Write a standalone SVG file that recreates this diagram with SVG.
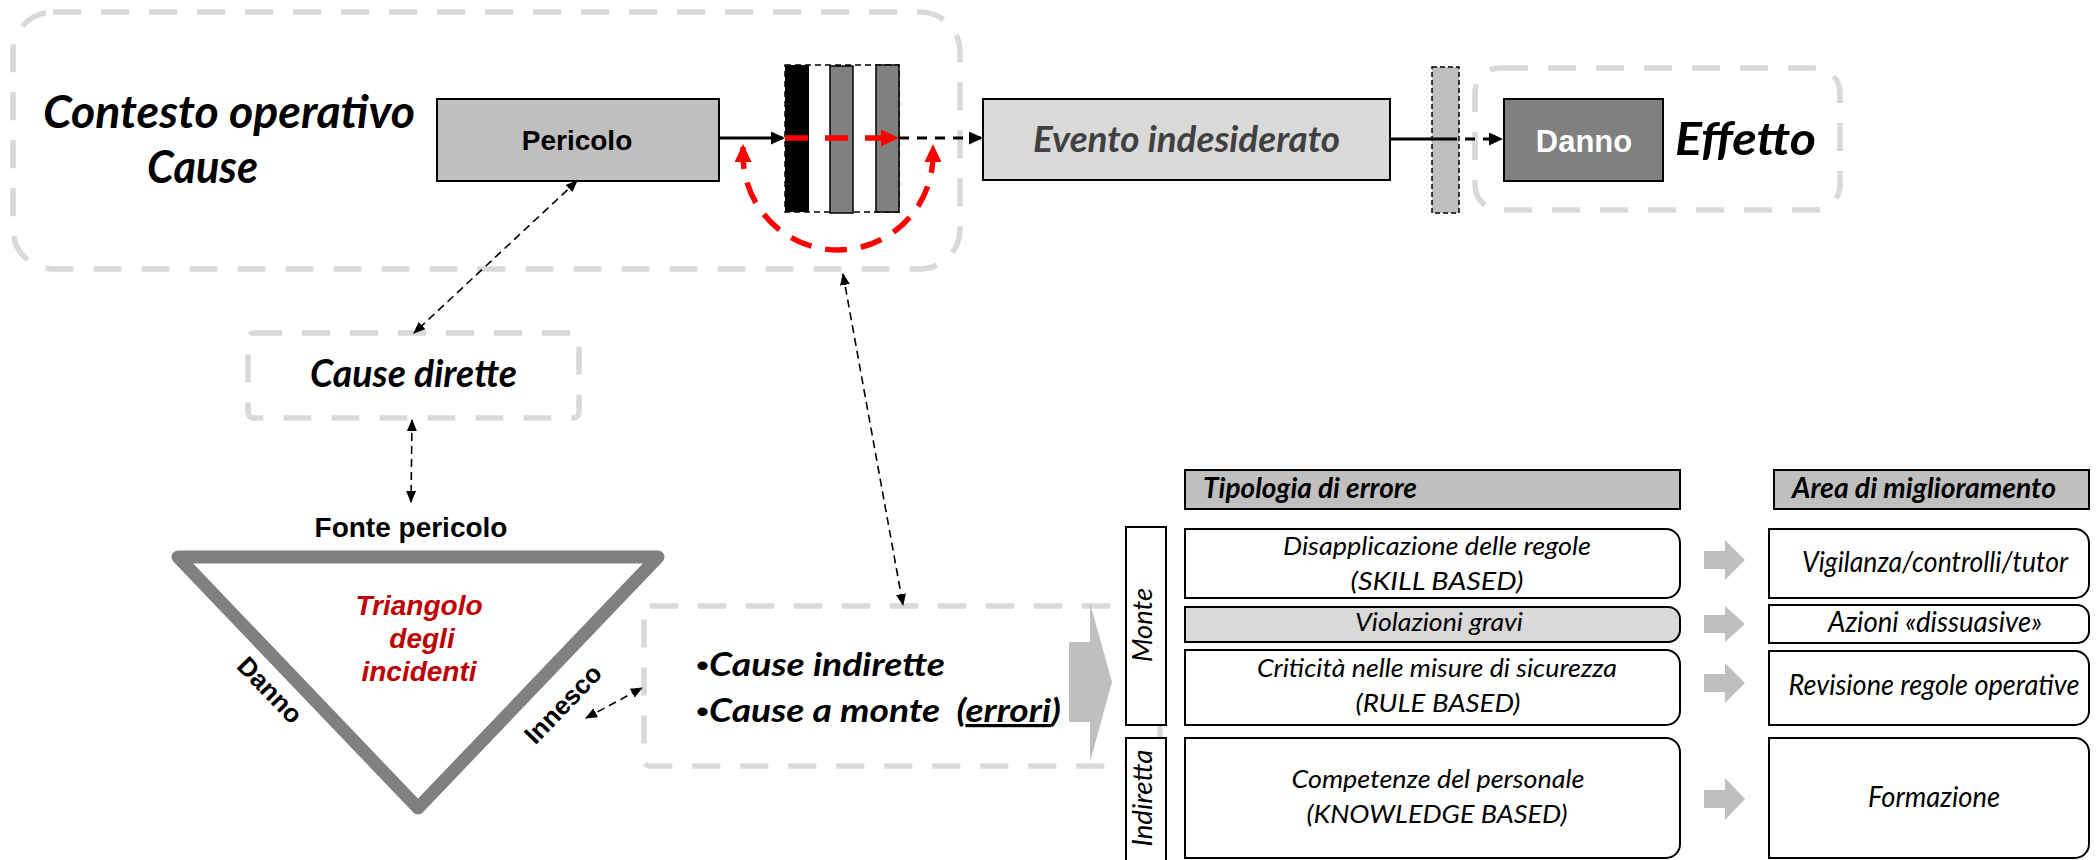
<svg xmlns="http://www.w3.org/2000/svg" width="2096" height="860" viewBox="0 0 2096 860">
<style>
.cal{font-family:Lato,"Open Sans","DejaVu Sans",sans-serif}
.ar{font-family:"Liberation Sans",Arial,sans-serif}
.bi{font-weight:bold;font-style:italic}
.it{font-style:italic}
.b{font-weight:bold}
.bul{font-family:"Liberation Sans",Arial,sans-serif;font-style:normal;font-weight:normal}
.gdash{fill:none;stroke:#d9d9d9;stroke-width:5.5;stroke-dasharray:28 20}
.box{stroke:#000;stroke-width:2}
.conn{fill:none;stroke:#000;stroke-width:1.6;stroke-dasharray:8 5}
.tbl{fill:#fff;stroke:#000;stroke-width:2}
.ga{fill:#bfbfbf}
</style>
<defs>
<marker id="ah" viewBox="0 0 12 10" refX="11" refY="5" markerWidth="12" markerHeight="10" markerUnits="userSpaceOnUse" orient="auto-start-reverse"><path d="M0,0 L12,5 L0,10 Z" fill="#000"/></marker>
<marker id="ahb" viewBox="0 0 14 13" refX="12" refY="6.5" markerWidth="14" markerHeight="13" markerUnits="userSpaceOnUse" orient="auto-start-reverse"><path d="M0,0 L14,6.5 L0,13 Z" fill="#000"/></marker>
<marker id="ahr" viewBox="0 0 18 17" refX="15" refY="8.5" markerWidth="18" markerHeight="17" markerUnits="userSpaceOnUse" orient="auto-start-reverse"><path d="M0,0 L18,8.5 L0,17 Z" fill="#ff0000"/></marker>
</defs>

<g id="contesto">
<rect class="gdash" x="13" y="12" width="947" height="257" rx="40"/>
<text class="cal bi" x="43" y="128" font-size="46" textLength="372" lengthAdjust="spacingAndGlyphs">Contesto operativo</text>
<text class="cal bi" x="147" y="183" font-size="46" textLength="111" lengthAdjust="spacingAndGlyphs">Cause</text>
</g>

<g id="pericolo">
<rect class="box" x="437" y="99" width="282" height="82" fill="#bfbfbf"/>
<text class="ar b" x="577" y="150" font-size="28" text-anchor="middle">Pericolo</text>
</g>

<g id="barriere">
<rect x="785" y="65" width="114" height="147" fill="none" stroke="#000" stroke-width="1.5" stroke-dasharray="6 4"/>
<rect x="785" y="65" width="24" height="147" fill="#000"/>
<rect x="830" y="66" width="23" height="147" fill="#808080" stroke="#000" stroke-width="1.5"/>
<rect x="876" y="65" width="23" height="147" fill="#808080" stroke="#000" stroke-width="1.5"/>
</g>

<g id="evento">
<rect class="box" x="983" y="99" width="407" height="81" fill="#d9d9d9"/>
<text class="cal bi" x="1033" y="152" font-size="36" fill="#404040" textLength="307" lengthAdjust="spacingAndGlyphs">Evento indesiderato</text>
</g>

<g id="barriera2">
<rect x="1432" y="67" width="27" height="146" fill="#bfbfbf" stroke="#000" stroke-width="1.5" stroke-dasharray="5 3"/>
</g>

<g id="effetto">
<rect class="gdash" x="1475" y="68" width="365" height="142" rx="25"/>
<rect class="box" x="1504" y="99" width="159" height="82" fill="#808080"/>
<text class="ar b" x="1584" y="152" font-size="31" fill="#fff" text-anchor="middle">Danno</text>
<text class="cal bi" x="1675" y="155" font-size="46" textLength="141" lengthAdjust="spacingAndGlyphs">Effetto</text>
</g>

<g id="cause-dirette">
<rect class="gdash" x="248" y="333" width="331" height="85" rx="6"/>
<text class="cal bi" x="310" y="387" font-size="38" textLength="207" lengthAdjust="spacingAndGlyphs">Cause dirette</text>
</g>

<g id="triangolo">
<text class="ar b" x="411" y="537" font-size="28" text-anchor="middle">Fonte pericolo</text>
<polygon points="178,557 658,557 418,808" fill="none" stroke="#808080" stroke-width="13" stroke-linejoin="round"/>
<text class="ar bi" x="419" y="615" font-size="28" fill="#c00000" text-anchor="middle">Triangolo</text>
<text class="ar bi" x="422" y="648" font-size="28" fill="#c00000" text-anchor="middle">degli</text>
<text class="ar bi" x="419" y="681" font-size="28" fill="#c00000" text-anchor="middle">incidenti</text>
<text class="ar b" transform="translate(270,690) rotate(46)" x="0" y="9" font-size="26" text-anchor="middle">Danno</text>
<text class="ar b" transform="translate(563,704) rotate(-46)" x="0" y="9" font-size="26" text-anchor="middle">Innesco</text>
</g>

<g id="cause-indirette">
<rect class="gdash" x="644" y="606" width="516" height="160" rx="6"/>
<text class="cal bi" x="696" y="676" font-size="32" textLength="249" lengthAdjust="spacingAndGlyphs"><tspan class="bul">•</tspan>Cause indirette</text>
<text class="cal bi" x="696" y="722" font-size="32" textLength="365" lengthAdjust="spacingAndGlyphs" xml:space="preserve"><tspan class="bul">•</tspan>Cause a monte  (<tspan text-decoration="underline">errori</tspan>)</text>
</g>

<g id="freccia-grande">
<polygon class="ga" points="1069,642 1090,642 1090,603 1112,682 1090,762 1090,722 1069,722"/>
</g>

<g id="monte">
<rect class="tbl" x="1126" y="527" width="40" height="198"/>
<text class="cal it" transform="translate(1152,625) rotate(-90)" font-size="27" text-anchor="middle" textLength="74" lengthAdjust="spacingAndGlyphs">Monte</text>
</g>
<g id="indiretta">
<rect class="tbl" x="1126" y="738" width="40" height="130"/>
<text class="cal it" transform="translate(1152,798) rotate(-90)" font-size="27" text-anchor="middle" textLength="97" lengthAdjust="spacingAndGlyphs">Indiretta</text>
</g>

<g id="tipologia">
<rect class="box" x="1185" y="470" width="495" height="39" fill="#bfbfbf"/>
<text class="cal bi" x="1203" y="498" font-size="28" textLength="214" lengthAdjust="spacingAndGlyphs">Tipologia di errore</text>
</g>
<g id="area">
<rect class="box" x="1774" y="470" width="315" height="39" fill="#bfbfbf"/>
<text class="cal bi" x="1792" y="498" font-size="28" textLength="264" lengthAdjust="spacingAndGlyphs">Area di miglioramento</text>
</g>

<g id="skill">
<path class="tbl" d="M1185,529 H1666 A14,14 0 0 1 1680,543 V584 A14,14 0 0 1 1666,598 H1185 Z"/>
<text class="cal it" x="1437" y="555" font-size="26" text-anchor="middle" textLength="308" lengthAdjust="spacingAndGlyphs">Disapplicazione delle regole</text>
<text class="cal it" x="1437" y="590" font-size="26" text-anchor="middle" textLength="173" lengthAdjust="spacingAndGlyphs">(SKILL BASED)</text>
</g>
<g id="violazioni">
<path class="tbl" style="fill:#d9d9d9" d="M1185,607 H1668 A12,12 0 0 1 1680,619 V630 A12,12 0 0 1 1668,642 H1185 Z"/>
<text class="cal it" x="1439" y="631" font-size="26" text-anchor="middle" textLength="168" lengthAdjust="spacingAndGlyphs">Violazioni gravi</text>
</g>
<g id="rule">
<path class="tbl" d="M1185,650 H1666 A14,14 0 0 1 1680,664 V711 A14,14 0 0 1 1666,725 H1185 Z"/>
<text class="cal it" x="1437" y="677" font-size="26" text-anchor="middle" textLength="360" lengthAdjust="spacingAndGlyphs">Criticità nelle misure di sicurezza</text>
<text class="cal it" x="1438" y="712" font-size="26" text-anchor="middle" textLength="165" lengthAdjust="spacingAndGlyphs">(RULE BASED)</text>
</g>
<g id="knowledge">
<path class="tbl" d="M1185,738 H1666 A14,14 0 0 1 1680,752 V844 A14,14 0 0 1 1666,858 H1185 Z"/>
<text class="cal it" x="1438" y="788" font-size="26" text-anchor="middle" textLength="293" lengthAdjust="spacingAndGlyphs">Competenze del personale</text>
<text class="cal it" x="1437" y="823" font-size="26" text-anchor="middle" textLength="261" lengthAdjust="spacingAndGlyphs">(KNOWLEDGE BASED)</text>
</g>

<g id="vigilanza">
<path class="tbl" d="M1769,529 H2075 A14,14 0 0 1 2089,543 V584 A14,14 0 0 1 2075,598 H1769 Z"/>
<text class="cal it" x="1935" y="572" font-size="28" text-anchor="middle" textLength="266" lengthAdjust="spacingAndGlyphs">Vigilanza/controlli/tutor</text>
</g>
<g id="azioni">
<path class="tbl" d="M1769,605 H2077 A12,12 0 0 1 2089,617 V631 A12,12 0 0 1 2077,643 H1769 Z"/>
<text class="cal it" x="1935" y="632" font-size="28" text-anchor="middle" textLength="214" lengthAdjust="spacingAndGlyphs">Azioni «dissuasive»</text>
</g>
<g id="revisione">
<path class="tbl" d="M1769,651 H2075 A14,14 0 0 1 2089,665 V711 A14,14 0 0 1 2075,725 H1769 Z"/>
<text class="cal it" x="1934" y="695" font-size="28" text-anchor="middle" textLength="291" lengthAdjust="spacingAndGlyphs">Revisione regole operative</text>
</g>
<g id="formazione">
<path class="tbl" d="M1769,738 H2075 A14,14 0 0 1 2089,752 V844 A14,14 0 0 1 2075,858 H1769 Z"/>
<text class="cal it" x="1934" y="807" font-size="28" text-anchor="middle" textLength="132" lengthAdjust="spacingAndGlyphs">Formazione</text>
</g>

<g id="connettori">
<line class="conn" x1="577" y1="181" x2="414" y2="333" marker-start="url(#ah)" marker-end="url(#ah)"/>
<line class="conn" x1="412" y1="420" x2="411" y2="502" marker-start="url(#ah)" marker-end="url(#ah)"/>
<line class="conn" x1="586" y1="718" x2="642" y2="688" marker-start="url(#ah)" marker-end="url(#ah)"/>
<line class="conn" x1="843" y1="274" x2="903" y2="605" marker-start="url(#ah)" marker-end="url(#ah)"/>
<line x1="719" y1="138" x2="783" y2="138" stroke="#000" stroke-width="3" marker-end="url(#ahb)"/>
<line x1="785" y1="138" x2="896" y2="138" stroke="#ff0000" stroke-width="5.5" stroke-dasharray="23 17" marker-end="url(#ahr)"/>
<line x1="899" y1="138" x2="981" y2="138" stroke="#000" stroke-width="3" stroke-dasharray="10 8" marker-end="url(#ahb)"/>
<path d="M743,147 L743,155 A95,95 0 0 0 933,155 L933,147" fill="none" stroke="#ff0000" stroke-width="5.5" stroke-dasharray="22 14" marker-start="url(#ahr)" marker-end="url(#ahr)"/>
<line x1="1390" y1="139" x2="1447" y2="139" stroke="#000" stroke-width="3"/>
<line x1="1447" y1="139" x2="1501" y2="139" stroke="#000" stroke-width="3" stroke-dasharray="10 8" marker-end="url(#ahb)"/>
<polygon class="ga" points="1704,551 1725,551 1725,540 1745,560 1725,580 1725,569 1704,569"/>
<polygon class="ga" points="1704,615 1725,615 1725,606 1745,624 1725,642 1725,633 1704,633"/>
<polygon class="ga" points="1704,674 1725,674 1725,663 1745,683 1725,703 1725,692 1704,692"/>
<polygon class="ga" points="1704,790 1725,790 1725,778 1745,799 1725,820 1725,808 1704,808"/>
</g>
</svg>
